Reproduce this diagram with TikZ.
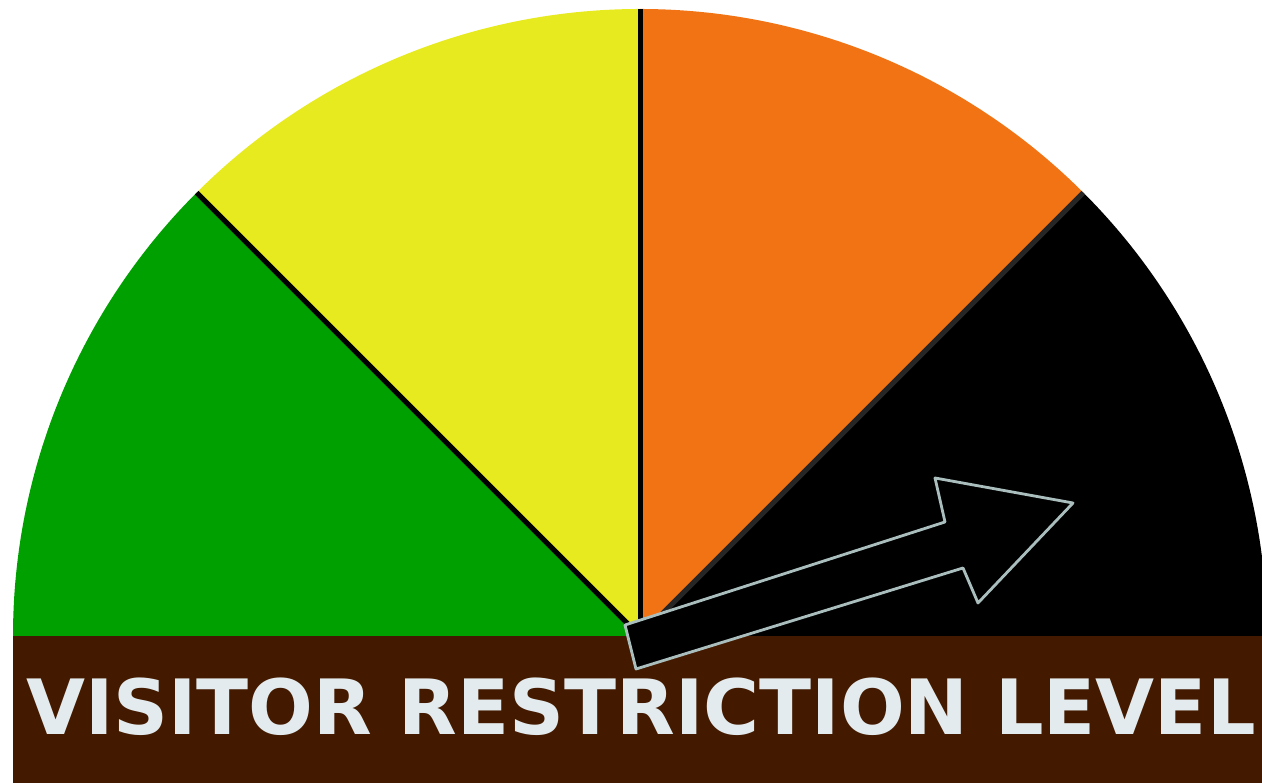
\documentclass[tikz,border=0pt]{standalone}
\usepackage{fontspec}
\usepackage{xcolor}
\usepackage{tikz}
\usetikzlibrary{positioning,calc}
\newfontfamily\gaugefont{DejaVu Sans}
\definecolor{lowgreen}{RGB}{0,160,0}
\definecolor{midyellow}{RGB}{230,234,30}
\definecolor{highorange}{RGB}{242,115,20}
\definecolor{bandbrown}{RGB}{67,26,0}
\definecolor{capgray}{RGB}{228,235,238}
\definecolor{rimgray}{RGB}{170,190,190}

\begin{document}
\begin{tikzpicture}[
  x=0.02cm, y=0.02cm,
  divider/.style={draw=black, line width=0.1cm},
  band/.style={fill=bandbrown},
  caption/.style={text=capgray, font=\gaugefont\bfseries\fontsize{43.4}{50}\selectfont, inner sep=0pt},
  pointer/.style={fill=black, draw=rimgray, line width=1.6pt, line join=round}
]
\useasboundingbox (0,0) rectangle (1262,783);
\coordinate (hub) at (640,147);
% sectors
\fill[lowgreen] (hub) -- ++(180:627) arc (180:135:627) -- cycle;
\fill[midyellow] (hub) -- ++(135:627) arc (135:90:627) -- cycle;
\fill[highorange] (hub) -- ++(90:627) arc (90:45:627) -- cycle;
\fill[black] (hub) -- ++(45:627) arc (45:0:627) -- cycle;
\draw[divider] (hub) -- ++(135:627);
\draw[divider] (hub) -- ++(90:627);
\draw[divider, draw=black!85] (hub) -- ++(45:627);
% band
\fill[band] (13,0) rectangle (1262,147);
\node[caption, anchor=base] (title) at (641,48) {VISITOR RESTRICTION LEVEL};
% arrow
\filldraw[pointer] (625,158) -- (945,261) -- (935,305) -- (1073,280)
  -- (978,180) -- (963,215) -- (636,114) -- cycle;
\end{tikzpicture}
\end{document}
